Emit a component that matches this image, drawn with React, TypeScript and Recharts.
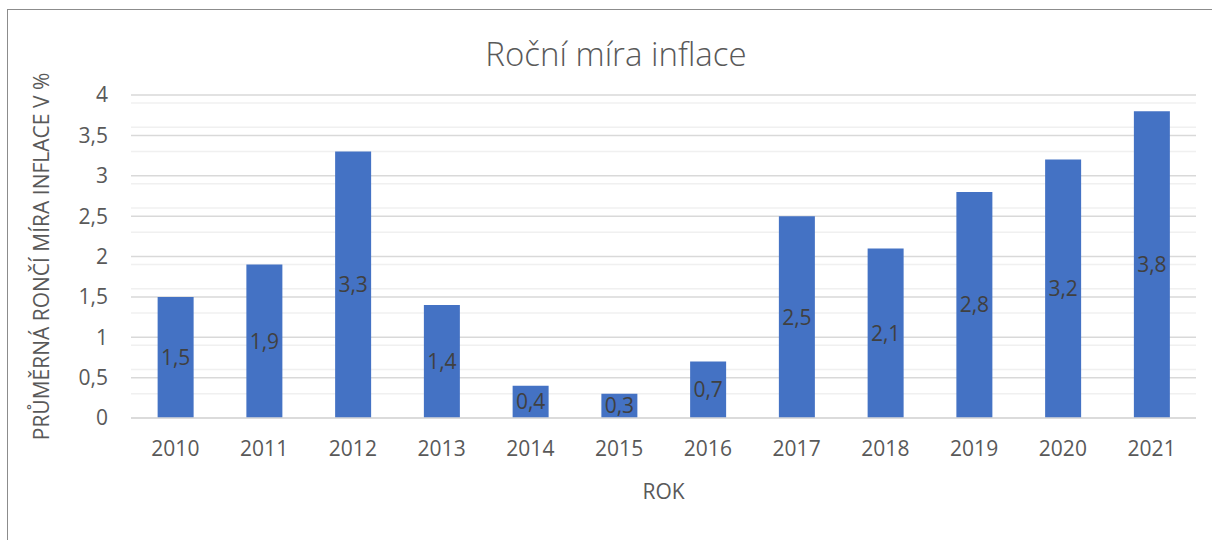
import { BarChart, Bar, XAxis, YAxis, CartesianGrid, LabelList } from 'recharts';

const years = ['2010', '2011', '2012', '2013', '2014', '2015', '2016', '2017', '2018', '2019', '2020', '2021'];
const inflation = [1.5, 1.9, 3.3, 1.4, 0.4, 0.3, 0.7, 2.5, 2.1, 2.8, 3.2, 3.8];
const yTicks = [0, 0.5, 1, 1.5, 2, 2.5, 3, 3.5, 4];
const minorGrid = [
    0.1, 0.2, 0.3, 0.4, 0.6, 0.7, 0.8, 0.9, 1.1, 1.2, 1.3, 1.4, 1.6, 1.7, 1.8, 1.9,
    2.1, 2.2, 2.3, 2.4, 2.6, 2.7, 2.8, 2.9, 3.1, 3.2, 3.3, 3.4, 3.6, 3.7, 3.8, 3.9,
];

const data = years.map((year, i) => ({ year, value: inflation[i] }));

const fmt = (v: any) => String(v).replace('.', ',');

const font = '"Open Sans", sans-serif';

const App = () => {
    return (
        <div style={{ position: 'absolute', top: 0, left: 0, width: 1212, height: 540, background: '#fff', fontFamily: font }}>
            <div style={{ position: 'absolute', left: 7, top: 9, right: -2, bottom: -2, borderLeft: '1.5px solid #8c8c8c', borderTop: '1.5px solid #8c8c8c' }} />
            <div style={{ position: 'absolute', left: 0, width: 1232, top: 31, textAlign: 'center', fontSize: 33, fontWeight: 300, color: '#595959' }}>
                Roční míra inflace
            </div>
            <BarChart width={1212} height={540} data={data} margin={{ top: 95, right: 16, left: 0, bottom: 0 }} barCategoryGap="30%">
                <CartesianGrid vertical={false} horizontalValues={minorGrid} stroke="#f0f0f0" strokeWidth={1.5} />
                <CartesianGrid vertical={false} horizontalValues={yTicks} stroke="#d9d9d9" strokeWidth={1.5} />
                <XAxis
                    dataKey="year"
                    height={122}
                    axisLine={{ stroke: '#d9d9d9', strokeWidth: 1.5 }}
                    tickLine={false}
                    tickSize={0}
                    tickMargin={23}
                    tick={{ fill: '#595959', fontSize: 21, fontFamily: font }}
                    label={{ value: 'ROK', position: 'insideBottom', offset: 41, fill: '#595959', fontSize: 21, fontFamily: font }}
                />
                <YAxis
                    width={131}
                    domain={[0, 4]}
                    ticks={yTicks}
                    tickFormatter={fmt}
                    axisLine={false}
                    tickLine={false}
                    tickSize={0}
                    tickMargin={23}
                    tick={{ fill: '#595959', fontSize: 21, fontFamily: font }}
                    label={{
                        value: 'PRŮMĚRNÁ RONČÍ MÍRA INFLACE V %',
                        angle: -90,
                        position: 'insideLeft',
                        offset: 42,
                        fill: '#595959',
                        fontSize: 21,
                        fontFamily: font,
                        style: { textAnchor: 'middle' },
                    }}
                />
                <Bar dataKey="value" fill="#4472C4" isAnimationActive={false}>
                    <LabelList dataKey="value" position="center" formatter={fmt} fill="#404040" fontSize={21} fontFamily={font} />
                </Bar>
            </BarChart>
        </div>
    );
};

export default App;
